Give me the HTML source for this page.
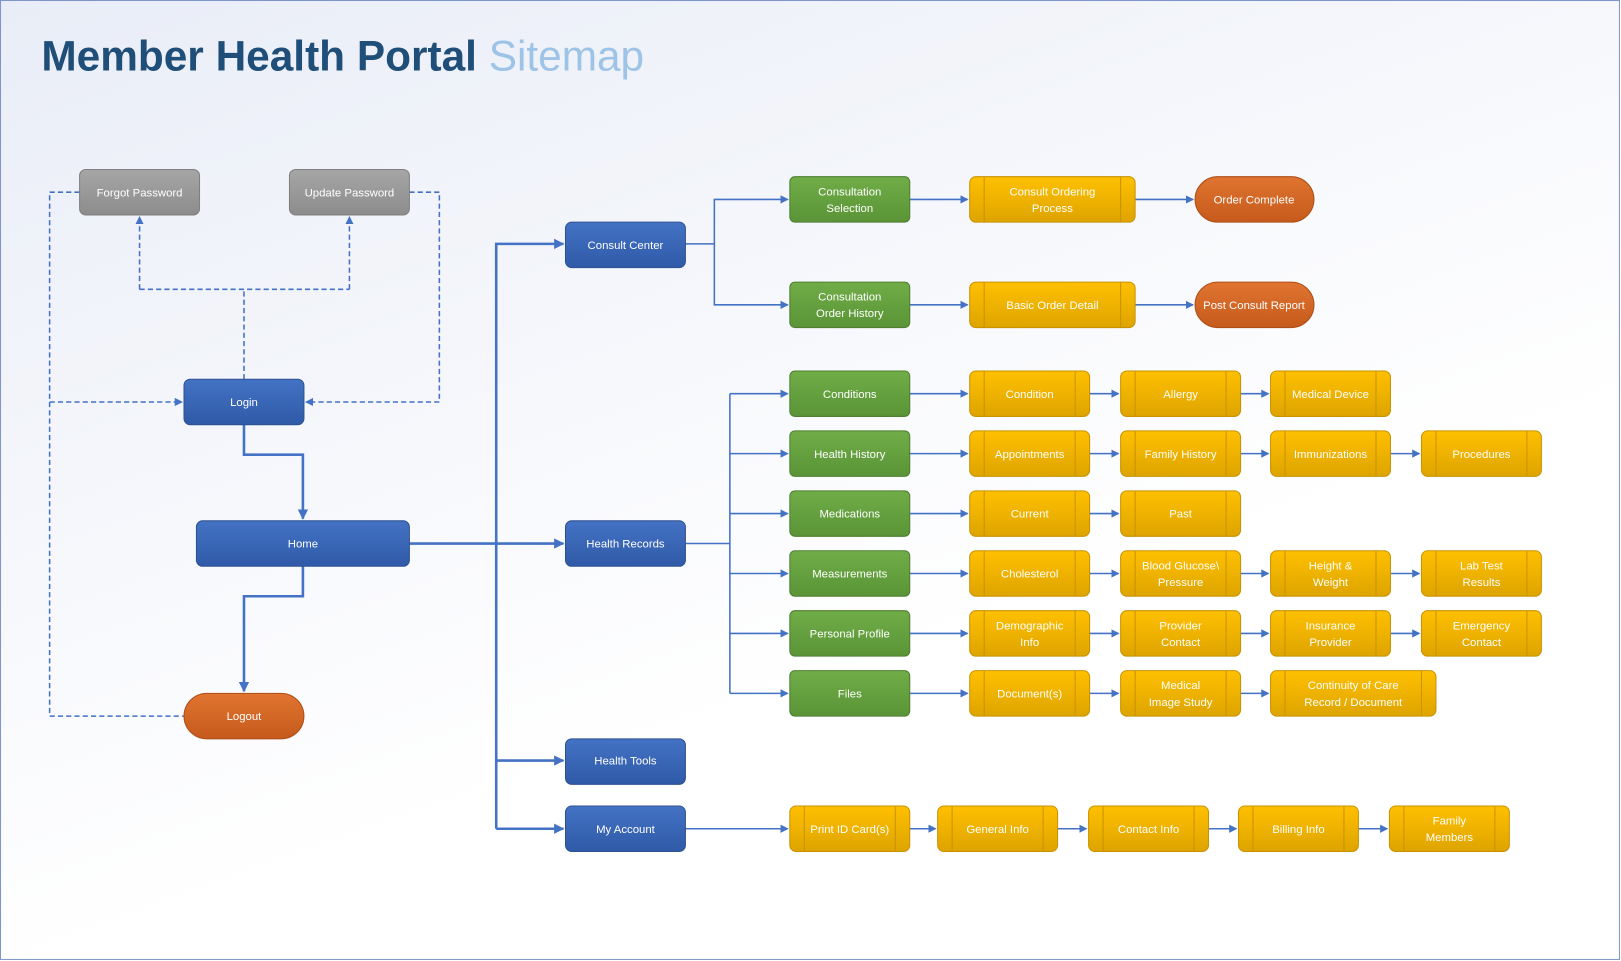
<!DOCTYPE html>
<html><head><meta charset="utf-8"><style>
html,body{margin:0;padding:0;background:#fff}
svg{display:block}
text{font-family:"Liberation Sans",sans-serif;font-size:11px;fill:#fff;text-anchor:middle}
</style></head><body>
<svg width="1621" height="961" viewBox="0 0 1568 930" preserveAspectRatio="none" xmlns="http://www.w3.org/2000/svg">
<defs>
<linearGradient id="bg" x1="0" y1="0" x2="0.6" y2="1"><stop offset="0" stop-color="#e9edf7"/><stop offset="0.75" stop-color="#ffffff"/></linearGradient>
<linearGradient id="gy" x1="0" y1="0" x2="0" y2="1"><stop offset="0" stop-color="#a6a6a6"/><stop offset="1" stop-color="#8c8c8c"/></linearGradient>
<linearGradient id="bl" x1="0" y1="0" x2="0" y2="1"><stop offset="0" stop-color="#4472c4"/><stop offset="1" stop-color="#2f5aa8"/></linearGradient>
<linearGradient id="gr" x1="0" y1="0" x2="0" y2="1"><stop offset="0" stop-color="#70ad47"/><stop offset="1" stop-color="#5a9437"/></linearGradient>
<linearGradient id="ye" x1="0" y1="0" x2="0" y2="1"><stop offset="0" stop-color="#ffc000"/><stop offset="1" stop-color="#dea400"/></linearGradient>
<linearGradient id="or" x1="0" y1="0" x2="0" y2="1"><stop offset="0" stop-color="#e07430"/><stop offset="1" stop-color="#c55a1c"/></linearGradient>
<marker id="a" markerWidth="8" markerHeight="8" refX="7" refY="4" orient="auto" markerUnits="userSpaceOnUse"><path d="M0,0 L8,4 L0,8 z" fill="#4472c4"/></marker>
<marker id="b" markerWidth="10" markerHeight="10" refX="9" refY="5" orient="auto" markerUnits="userSpaceOnUse"><path d="M0,0 L10,5 L0,10 z" fill="#4472c4"/></marker>
</defs>
<rect x="0.5" y="0.5" width="1566" height="928" fill="url(#bg)" stroke="#7f96c8" stroke-width="1"/>
<text x="40" y="68" style="font-size:41px;font-weight:bold;fill:#1f4e79;text-anchor:start">Member Health Portal <tspan style="font-weight:normal;fill:#9dc3e6">Sitemap</tspan></text>

<g fill="none" stroke="#4472c4" stroke-width="1.5" stroke-dasharray="5,3">
<path d="M236,367 V280 M135,280 H338 M135,280 V210" marker-end="url(#a)"/>
<path d="M338,280 V210" marker-end="url(#a)"/>
<path d="M77,186 H48 V693 H178"/>
<path d="M48,389 H176" marker-end="url(#a)"/>
<path d="M396,186 H425 V389 H296" marker-end="url(#a)"/>
</g>
<g fill="none" stroke="#4472c4" stroke-width="2.5">
<path d="M236,411 V440 H293 V502" marker-end="url(#b)"/>
<path d="M293,548 V577 H236 V669" marker-end="url(#b)"/>
<path d="M396,526 H545" marker-end="url(#b)"/>
<path d="M480,802 V236 H545" marker-end="url(#b)"/>
<path d="M480,736 H545" marker-end="url(#b)"/>
<path d="M480,802 H545" marker-end="url(#b)"/>
</g>
<g fill="none" stroke="#4472c4" stroke-width="1.5">
<path d="M663,236 H691 V193 H762" marker-end="url(#a)"/>
<path d="M691,236 V295 H762" marker-end="url(#a)"/>
<path d="M663,526 H706 M706,381 V671"/>
<path d="M706,381 H762" marker-end="url(#a)"/><path d="M706,439 H762" marker-end="url(#a)"/>
<path d="M706,497 H762" marker-end="url(#a)"/><path d="M706,555 H762" marker-end="url(#a)"/>
<path d="M706,613 H762" marker-end="url(#a)"/><path d="M706,671 H762" marker-end="url(#a)"/>
<path d="M880,193 H936" marker-end="url(#a)"/><path d="M1098,193 H1154" marker-end="url(#a)"/>
<path d="M880,295 H936" marker-end="url(#a)"/><path d="M1098,295 H1154" marker-end="url(#a)"/>
<path d="M880,381 H936" marker-end="url(#a)"/>
<path d="M1054,381 H1082" marker-end="url(#a)"/><path d="M1200,381 H1227" marker-end="url(#a)"/>
<path d="M880,439 H936" marker-end="url(#a)"/><path d="M1054,439 H1082" marker-end="url(#a)"/><path d="M1200,439 H1227" marker-end="url(#a)"/><path d="M1345,439 H1373" marker-end="url(#a)"/>
<path d="M880,497 H936" marker-end="url(#a)"/><path d="M1054,497 H1082" marker-end="url(#a)"/>
<path d="M880,555 H936" marker-end="url(#a)"/><path d="M1054,555 H1082" marker-end="url(#a)"/><path d="M1200,555 H1227" marker-end="url(#a)"/><path d="M1345,555 H1373" marker-end="url(#a)"/>
<path d="M880,613 H936" marker-end="url(#a)"/><path d="M1054,613 H1082" marker-end="url(#a)"/><path d="M1200,613 H1227" marker-end="url(#a)"/><path d="M1345,613 H1373" marker-end="url(#a)"/>
<path d="M880,671 H936" marker-end="url(#a)"/><path d="M1054,671 H1082" marker-end="url(#a)"/><path d="M1200,671 H1227" marker-end="url(#a)"/>
<path d="M663,802 H762" marker-end="url(#a)"/><path d="M880,802 H905" marker-end="url(#a)"/><path d="M1023,802 H1051" marker-end="url(#a)"/><path d="M1169,802 H1196" marker-end="url(#a)"/><path d="M1314,802 H1342" marker-end="url(#a)"/>
</g>

<g stroke="#7f7f7f" stroke-width="1">
<rect x="77" y="164" width="116" height="44" rx="6" fill="url(#gy)"/>
<rect x="280" y="164" width="116" height="44" rx="6" fill="url(#gy)"/>
</g>
<text x="135" y="190">Forgot Password</text><text x="338" y="190">Update Password</text>
<g stroke="#2f528f" stroke-width="1" fill="url(#bl)">
<rect x="178" y="367" width="116" height="44" rx="6"/>
<rect x="190" y="504" width="206" height="44" rx="6"/>
<rect x="547" y="215" width="116" height="44" rx="6"/>
<rect x="547" y="504" width="116" height="44" rx="6"/>
<rect x="547" y="715" width="116" height="44" rx="6"/>
<rect x="547" y="780" width="116" height="44" rx="6"/>
</g>
<text x="236" y="393">Login</text><text x="293" y="530">Home</text>
<text x="605" y="241">Consult Center</text><text x="605" y="530">Health Records</text>
<text x="605" y="740">Health Tools</text><text x="605" y="806">My Account</text>
<g stroke="#ae4f18" stroke-width="1" fill="url(#or)">
<rect x="178" y="671" width="116" height="44" rx="22"/>
<rect x="1156" y="171" width="115" height="44" rx="22"/>
<rect x="1156" y="273" width="115" height="44" rx="22"/>
</g>
<text x="236" y="697">Logout</text><text x="1213" y="197">Order Complete</text><text x="1213" y="299">Post Consult Report</text>
<g stroke="#507e32" stroke-width="1" fill="url(#gr)">
<rect x="764" y="171" width="116" height="44" rx="5"/>
<rect x="764" y="273" width="116" height="44" rx="5"/>
<rect x="764" y="359" width="116" height="44" rx="5"/>
<rect x="764" y="417" width="116" height="44" rx="5"/>
<rect x="764" y="475" width="116" height="44" rx="5"/>
<rect x="764" y="533" width="116" height="44" rx="5"/>
<rect x="764" y="591" width="116" height="44" rx="5"/>
<rect x="764" y="649" width="116" height="44" rx="5"/>
</g>
<text x="822" y="189">Consultation</text><text x="822" y="205">Selection</text>
<text x="822" y="291">Consultation</text><text x="822" y="307">Order History</text>
<text x="822" y="385">Conditions</text><text x="822" y="443">Health History</text>
<text x="822" y="501">Medications</text><text x="822" y="559">Measurements</text>
<text x="822" y="617">Personal Profile</text><text x="822" y="675">Files</text>
<g stroke="#c89200" stroke-width="1" fill="url(#ye)">
<rect x="938" y="171" width="160" height="44" rx="6"/><path d="M952,171V215M1084,171V215"/>
<rect x="938" y="273" width="160" height="44" rx="6"/><path d="M952,273V317M1084,273V317"/>
<rect x="938" y="359" width="116" height="44" rx="6"/><path d="M952,359V403M1040,359V403"/>
<rect x="1084" y="359" width="116" height="44" rx="6"/><path d="M1098,359V403M1186,359V403"/>
<rect x="1229" y="359" width="116" height="44" rx="6"/><path d="M1243,359V403M1331,359V403"/>
<rect x="938" y="417" width="116" height="44" rx="6"/><path d="M952,417V461M1040,417V461"/>
<rect x="1084" y="417" width="116" height="44" rx="6"/><path d="M1098,417V461M1186,417V461"/>
<rect x="1229" y="417" width="116" height="44" rx="6"/><path d="M1243,417V461M1331,417V461"/>
<rect x="1375" y="417" width="116" height="44" rx="6"/><path d="M1389,417V461M1477,417V461"/>
<rect x="938" y="475" width="116" height="44" rx="6"/><path d="M952,475V519M1040,475V519"/>
<rect x="1084" y="475" width="116" height="44" rx="6"/><path d="M1098,475V519M1186,475V519"/>
<rect x="938" y="533" width="116" height="44" rx="6"/><path d="M952,533V577M1040,533V577"/>
<rect x="1084" y="533" width="116" height="44" rx="6"/><path d="M1098,533V577M1186,533V577"/>
<rect x="1229" y="533" width="116" height="44" rx="6"/><path d="M1243,533V577M1331,533V577"/>
<rect x="1375" y="533" width="116" height="44" rx="6"/><path d="M1389,533V577M1477,533V577"/>
<rect x="938" y="591" width="116" height="44" rx="6"/><path d="M952,591V635M1040,591V635"/>
<rect x="1084" y="591" width="116" height="44" rx="6"/><path d="M1098,591V635M1186,591V635"/>
<rect x="1229" y="591" width="116" height="44" rx="6"/><path d="M1243,591V635M1331,591V635"/>
<rect x="1375" y="591" width="116" height="44" rx="6"/><path d="M1389,591V635M1477,591V635"/>
<rect x="938" y="649" width="116" height="44" rx="6"/><path d="M952,649V693M1040,649V693"/>
<rect x="1084" y="649" width="116" height="44" rx="6"/><path d="M1098,649V693M1186,649V693"/>
<rect x="1229" y="649" width="160" height="44" rx="6"/><path d="M1243,649V693M1375,649V693"/>
<rect x="764" y="780" width="116" height="44" rx="6"/><path d="M778,780V824M866,780V824"/>
<rect x="907" y="780" width="116" height="44" rx="6"/><path d="M921,780V824M1009,780V824"/>
<rect x="1053" y="780" width="116" height="44" rx="6"/><path d="M1067,780V824M1155,780V824"/>
<rect x="1198" y="780" width="116" height="44" rx="6"/><path d="M1212,780V824M1300,780V824"/>
<rect x="1344" y="780" width="116" height="44" rx="6"/><path d="M1358,780V824M1446,780V824"/>
</g>
<text x="1018" y="189">Consult Ordering</text><text x="1018" y="205">Process</text>
<text x="1018" y="299">Basic Order Detail</text>
<text x="996" y="385">Condition</text><text x="1142" y="385">Allergy</text><text x="1287" y="385">Medical Device</text>
<text x="996" y="443">Appointments</text><text x="1142" y="443">Family History</text><text x="1287" y="443">Immunizations</text><text x="1433" y="443">Procedures</text>
<text x="996" y="501">Current</text><text x="1142" y="501">Past</text>
<text x="996" y="559">Cholesterol</text><text x="1142" y="551">Blood Glucose\</text><text x="1142" y="567">Pressure</text>
<text x="1287" y="551">Height &amp;</text><text x="1287" y="567">Weight</text><text x="1433" y="551">Lab Test</text><text x="1433" y="567">Results</text>
<text x="996" y="609">Demographic</text><text x="996" y="625">Info</text><text x="1142" y="609">Provider</text><text x="1142" y="625">Contact</text>
<text x="1287" y="609">Insurance</text><text x="1287" y="625">Provider</text><text x="1433" y="609">Emergency</text><text x="1433" y="625">Contact</text>
<text x="996" y="675">Document(s)</text><text x="1142" y="667">Medical</text><text x="1142" y="683">Image Study</text>
<text x="1309" y="667">Continuity of Care</text><text x="1309" y="683">Record / Document</text>
<text x="822" y="806">Print ID Card(s)</text><text x="965" y="806">General Info</text><text x="1111" y="806">Contact Info</text><text x="1256" y="806">Billing Info</text>
<text x="1402" y="798">Family</text><text x="1402" y="814">Members</text>
</svg>
</body></html>
